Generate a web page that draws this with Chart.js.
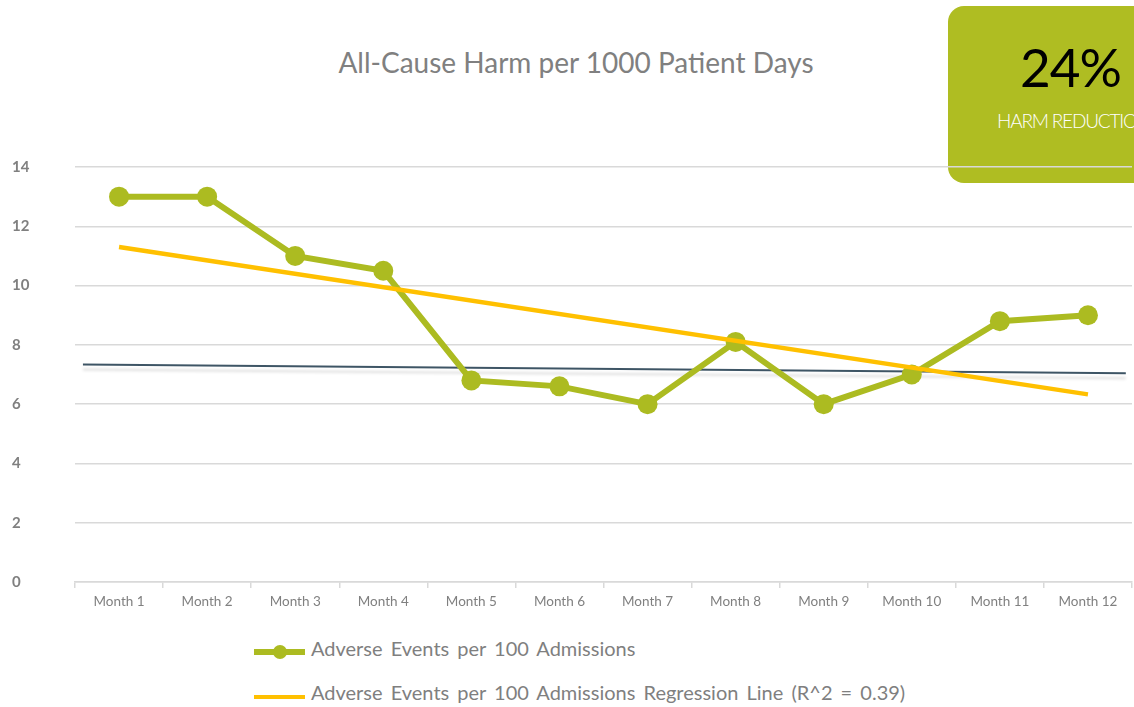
<!DOCTYPE html>
<html>
<head>
<meta charset="utf-8">
<script src="https://cdn.jsdelivr.net/npm/chart.js@4.4.1/dist/chart.umd.min.js"></script>
<style>
    body { margin: 0; width: 1134px; height: 707px; overflow: hidden; background: #fff; position: relative; font-family: Lato, "Open Sans", sans-serif; }
    #title { position: absolute; left: 0; width: 1152px; top: 45px; text-align: center; font-size: 28px; color: #808080; }
    #badge { position: absolute; left: 948px; top: 6px; width: 246px; height: 177px; border-radius: 16px; background: #afbd22; overflow: hidden; }
    #badge .big { position: absolute; left: 72px; top: 29px; font-size: 53px; font-weight: 400; color: #000; letter-spacing: -1px; }
    #badge .small { position: absolute; left: 49px; top: 103px; font-size: 19px; font-weight: 300; color: #fff; letter-spacing: -1.2px; white-space: nowrap; }
    #harmChart { position: absolute; left: 0; top: 150px; }
    .legend-item { position: absolute; left: 254px; height: 24px; font-size: 20px; color: #7f7f7f; word-spacing: 3px; white-space: nowrap; }
    .legend-item .swatch { position: absolute; left: 0; width: 51px; }
    .legend-item .dot { position: absolute; left: 19px; width: 14px; height: 14px; border-radius: 50%; }
    .legend-item span.text { position: absolute; left: 57px; top: 0; }
</style>
</head>
<body>
<div id="title">All-Cause Harm per 1000 Patient Days</div>
<div id="badge"><div class="big">24%</div><div class="small">HARM REDUCTION</div></div>
<canvas id="harmChart" width="1134" height="470"></canvas>
<div class="legend-item" style="top:636px">
    <div class="swatch" style="top:13px;height:6px;background:#acbb21"></div>
    <div class="dot" style="top:9px;background:#acbb21"></div>
    <span class="text">Adverse Events per 100 Admissions</span>
</div>
<div class="legend-item" style="top:680px">
    <div class="swatch" style="top:15px;height:4px;background:#ffc000"></div>
    <span class="text">Adverse Events per 100 Admissions Regression Line (R^2 = 0.39)</span>
</div>

<script>
// データ
const months = ['Month 1', 'Month 2', 'Month 3', 'Month 4', 'Month 5', 'Month 6',
    'Month 7', 'Month 8', 'Month 9', 'Month 10', 'Month 11', 'Month 12'];
const adverseEvents = [13, 13, 11, 10.5, 6.8, 6.6, 6, 8.1, 6, 7, 8.8, 9];
// 回帰線の両端 (Month 1 と Month 12)
const regressionX = [0, 11];
const regressionY = [11.3, 6.33];
// 濃い横線 (基準線)
const baselineX = [-0.41, 11.43];
const baselineY = [7.34, 7.04];
const yTicks = [0, 2, 4, 6, 8, 10, 12, 14];

const toPoints = (xs, ys) => xs.map((x, i) => ({ x: x, y: ys[i] }));

// 基準線の影
const shadowPlugin = {
    id: 'baselineShadow',
    beforeDatasetDraw(chart, args) {
        if (args.meta.label !== 'baseline') return;
        const ctx = chart.ctx;
        ctx.save();
        ctx.shadowColor = 'rgba(0, 0, 0, 0.14)';
        ctx.shadowOffsetY = 5;
        ctx.shadowBlur = 3;
    },
    afterDatasetDraw(chart, args) {
        if (args.meta.label !== 'baseline') return;
        chart.ctx.restore();
    }
};

const ctx = document.getElementById('harmChart').getContext('2d');
new Chart(ctx, {
    type: 'line',
    data: {
        labels: months,
        datasets: [
            {
                label: 'Adverse Events per 100 Admissions',
                data: adverseEvents,
                borderColor: '#acbb21',
                backgroundColor: '#acbb21',
                pointBackgroundColor: '#acbb21',
                pointBorderWidth: 0,
                borderWidth: 6,
                pointRadius: 10,
                tension: 0,
                order: 1
            },
            {
                label: 'Adverse Events per 100 Admissions Regression Line (R^2 = 0.39)',
                data: toPoints(regressionX, regressionY),
                xAxisID: 'x2',
                borderColor: '#ffc000',
                borderWidth: 4.5,
                pointRadius: 0,
                order: 0
            },
            {
                label: 'baseline',
                data: toPoints(baselineX, baselineY),
                xAxisID: 'x2',
                borderColor: '#3e5565',
                borderWidth: 2,
                pointRadius: 0,
                order: 2
            }
        ]
    },
    options: {
        responsive: false,
        animation: false,
        layout: { autoPadding: false, padding: { top: 17, right: 2, left: 12, bottom: 0 } },
        plugins: {
            legend: { display: false },
            tooltip: { enabled: false },
            title: { display: false }
        },
        scales: {
            x: {
                type: 'category',
                offset: true,
                grid: { offset: true, drawOnChartArea: false, tickLength: 6, color: '#d9d9d9', lineWidth: 1.5 },
                border: { color: '#d9d9d9', width: 1.5 },
                ticks: { color: '#808080', font: { family: 'Lato', size: 13.5 }, padding: 6, maxRotation: 0, autoSkip: false },
                afterFit: s => { s.height = 38; }
            },
            x2: {
                type: 'linear',
                min: -0.5,
                max: 11.5,
                display: false
            },
            y: {
                min: 0,
                max: 14,
                afterBuildTicks: s => { s.ticks = yTicks.map(v => ({ value: v })); },
                grid: { color: '#d9d9d9', lineWidth: 1.5, drawTicks: false },
                border: { display: false },
                ticks: { color: '#808080', font: { family: 'Lato', size: 15, weight: 'bold' }, padding: 0, crossAlign: 'far' },
                afterFit: s => { s.width = 63; }
            }
        }
    },
    plugins: [shadowPlugin]
});
</script>
</body>
</html>
